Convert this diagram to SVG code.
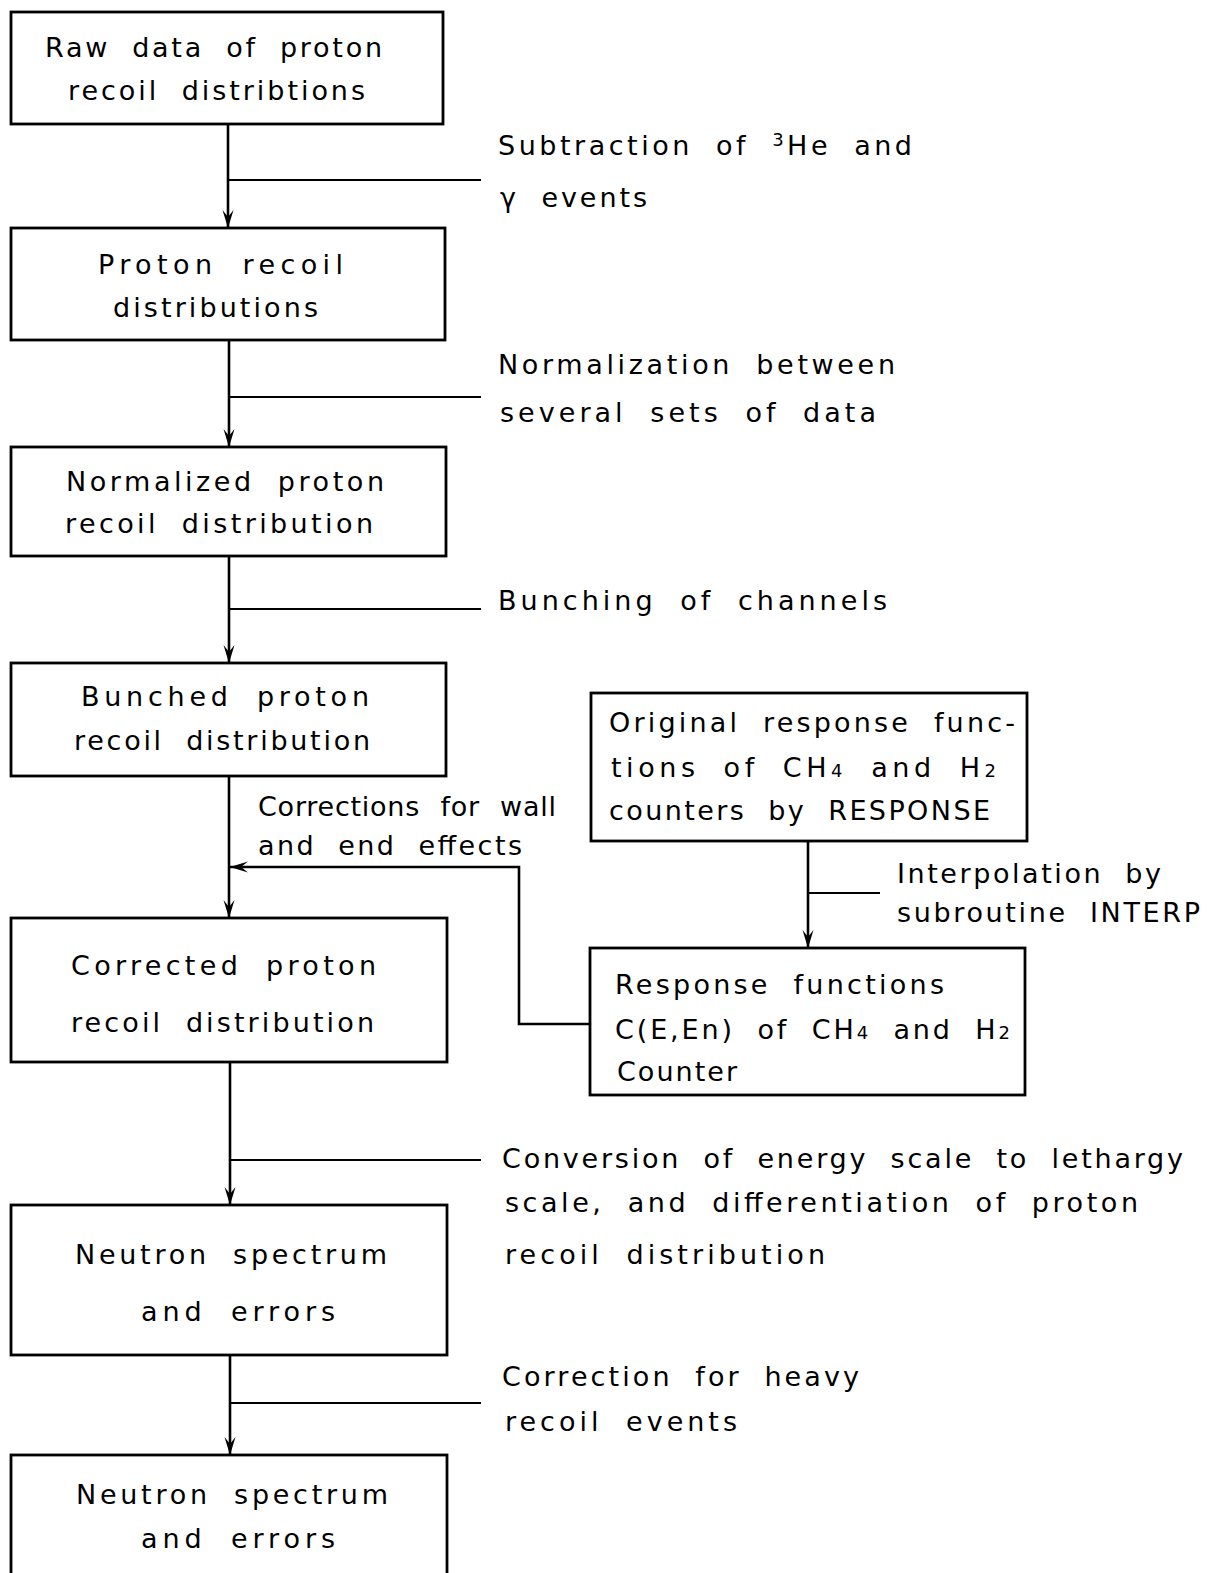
<svg xmlns="http://www.w3.org/2000/svg" width="1209" height="1573" viewBox="0 0 1209 1573">
<style>
.box{fill:#fff;stroke:#000;stroke-width:2.8}
.ln{fill:none;stroke:#000;stroke-width:2.6}
.br{fill:none;stroke:#000;stroke-width:2.2}
text{font-family:"DejaVu Sans","Liberation Sans",sans-serif;font-size:27px;fill:#000;word-spacing:11px}
.sm{font-size:18px}
</style>
<defs>
<marker id="ah" viewBox="0 0 18 12" refX="18" refY="6" markerWidth="18" markerHeight="12" markerUnits="userSpaceOnUse" orient="auto">
<path d="M0,0.5 L18,6 L0,11.5 L7,6 Z" fill="#000"/>
</marker>
</defs>
<rect width="1209" height="1573" fill="#fff"/>
<g id="connectors">
<line class="ln" x1="228" y1="124" x2="228" y2="228" marker-end="url(#ah)"/>
<line class="br" x1="228" y1="180" x2="481" y2="180"/>
<line class="ln" x1="229" y1="340" x2="229" y2="447" marker-end="url(#ah)"/>
<line class="br" x1="229" y1="397" x2="481" y2="397"/>
<line class="ln" x1="229" y1="556" x2="229" y2="663" marker-end="url(#ah)"/>
<line class="br" x1="229" y1="609" x2="481" y2="609"/>
<line class="ln" x1="229" y1="776" x2="229" y2="918" marker-end="url(#ah)"/>
<polyline class="ln" points="590,1024 519,1024 519,867 230,867" marker-end="url(#ah)"/>
<line class="ln" x1="808" y1="841" x2="808" y2="948" marker-end="url(#ah)"/>
<line class="br" x1="808" y1="893" x2="880" y2="893"/>
<line class="ln" x1="230" y1="1062" x2="230" y2="1205" marker-end="url(#ah)"/>
<line class="br" x1="230" y1="1160" x2="481" y2="1160"/>
<line class="ln" x1="230" y1="1355" x2="230" y2="1455" marker-end="url(#ah)"/>
<line class="br" x1="230" y1="1403" x2="481" y2="1403"/>
</g>
<g id="n1"><rect class="box" x="11" y="12" width="432" height="112"/>
<text x="45" y="57" textLength="337" lengthAdjust="spacing">Raw data of proton</text>
<text x="68" y="100" textLength="297" lengthAdjust="spacing">recoil distribtions</text></g>
<g id="n2"><rect class="box" x="11" y="228" width="434" height="112"/>
<text x="98" y="274" textLength="245" lengthAdjust="spacing">Proton recoil</text>
<text x="113" y="317" textLength="205" lengthAdjust="spacing">distributions</text></g>
<g id="n3"><rect class="box" x="11" y="447" width="435" height="109"/>
<text x="66" y="491" textLength="318" lengthAdjust="spacing">Normalized proton</text>
<text x="65" y="533" textLength="308" lengthAdjust="spacing">recoil distribution</text></g>
<g id="n4"><rect class="box" x="11" y="663" width="435" height="113"/>
<text x="81" y="706" textLength="288" lengthAdjust="spacing">Bunched proton</text>
<text x="74" y="750" textLength="296" lengthAdjust="spacing">recoil distribution</text></g>
<g id="n5"><rect class="box" x="11" y="918" width="436" height="144"/>
<text x="71" y="975" textLength="305" lengthAdjust="spacing">Corrected proton</text>
<text x="71" y="1032" textLength="303" lengthAdjust="spacing">recoil distribution</text></g>
<g id="n6"><rect class="box" x="11" y="1205" width="436" height="150"/>
<text x="75" y="1264" textLength="312" lengthAdjust="spacing">Neutron spectrum</text>
<text x="141" y="1321" textLength="194" lengthAdjust="spacing">and errors</text></g>
<g id="n7"><rect class="box" x="11" y="1455" width="436" height="130"/>
<text x="76" y="1504" textLength="312" lengthAdjust="spacing">Neutron spectrum</text>
<text x="141" y="1548" textLength="194" lengthAdjust="spacing">and errors</text></g>
<g id="nA"><rect class="box" x="591" y="693" width="436" height="148"/>
<text x="609" y="732" textLength="406" lengthAdjust="spacing">Original response func-</text>
<text x="611" y="777" textLength="385" lengthAdjust="spacing">tions of CH<tspan class="sm">4</tspan> and H<tspan class="sm">2</tspan></text>
<text x="609" y="820" textLength="381" lengthAdjust="spacing">counters by RESPONSE</text></g>
<g id="nB"><rect class="box" x="590" y="948" width="435" height="147"/>
<text x="615" y="994" textLength="329" lengthAdjust="spacing">Response functions</text>
<text x="615" y="1039" textLength="395" lengthAdjust="spacing">C(E,En) of CH<tspan class="sm">4</tspan> and H<tspan class="sm">2</tspan></text>
<text x="617" y="1081" textLength="120" lengthAdjust="spacing">Counter</text></g>
<g id="labels">
<text x="498" y="155" textLength="414" lengthAdjust="spacing">Subtraction of <tspan class="sm" dy="-9">3</tspan><tspan dy="9">He and</tspan></text>
<text x="500" y="207" textLength="147" lengthAdjust="spacing">γ events</text>
<text x="498" y="374" textLength="397" lengthAdjust="spacing">Normalization between</text>
<text x="500" y="422" textLength="376" lengthAdjust="spacing">several sets of data</text>
<text x="498" y="610" textLength="389" lengthAdjust="spacing">Bunching of channels</text>
<text x="258" y="816" textLength="298" lengthAdjust="spacing">Corrections for wall</text>
<text x="258" y="855" textLength="264" lengthAdjust="spacing">and end effects</text>
<text x="897" y="883" textLength="264" lengthAdjust="spacing">Interpolation by</text>
<text x="897" y="922" textLength="303" lengthAdjust="spacing">subroutine INTERP</text>
<text x="502" y="1168" textLength="681" lengthAdjust="spacing">Conversion of energy scale to lethargy</text>
<text x="505" y="1212" textLength="633" lengthAdjust="spacing">scale, and differentiation of proton</text>
<text x="505" y="1264" textLength="320" lengthAdjust="spacing">recoil distribution</text>
<text x="502" y="1386" textLength="357" lengthAdjust="spacing">Correction for heavy</text>
<text x="505" y="1431" textLength="232" lengthAdjust="spacing">recoil events</text>
</g>
</svg>
